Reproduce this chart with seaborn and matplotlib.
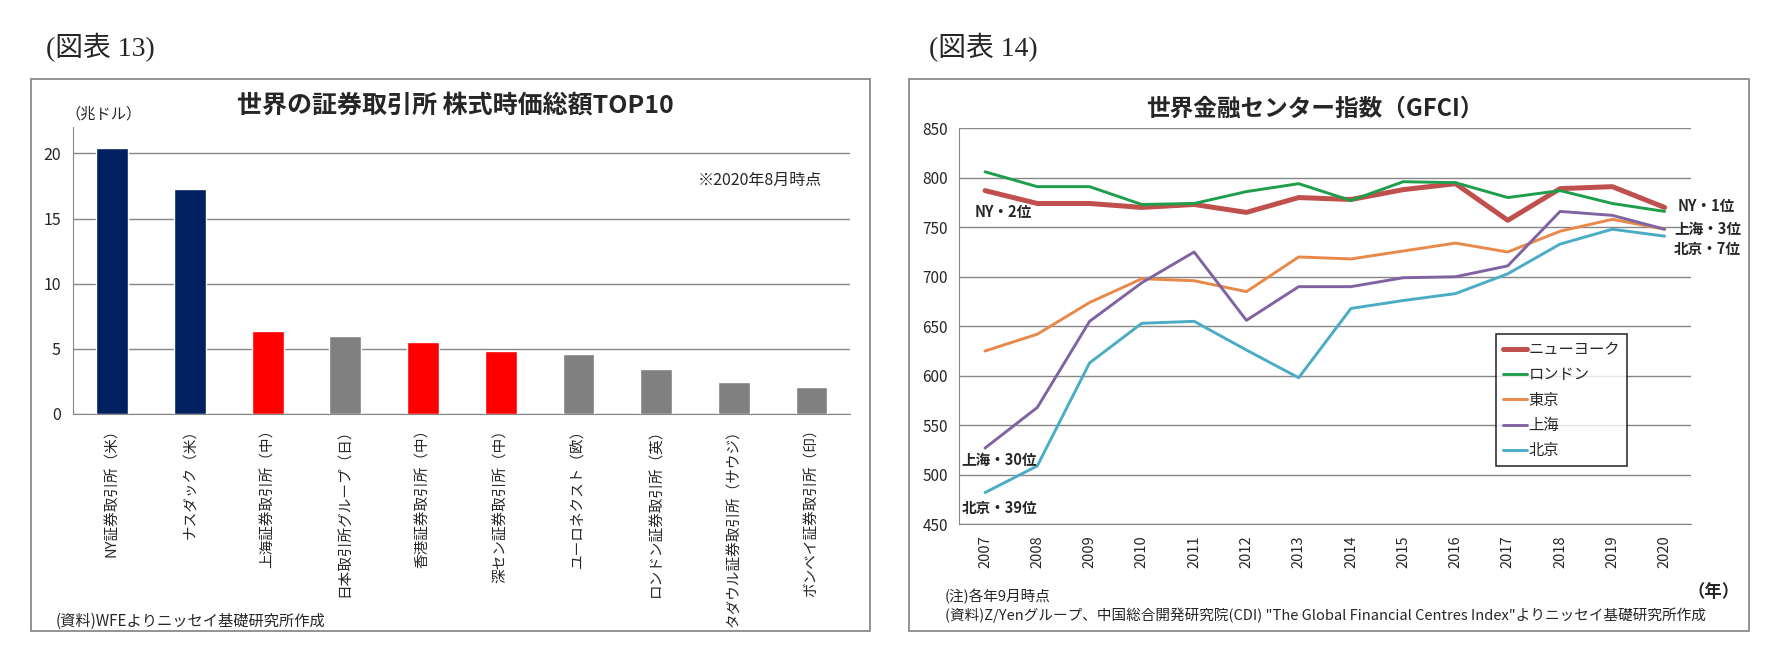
import matplotlib
matplotlib.use("Agg")
import matplotlib.pyplot as plt
from matplotlib.patches import Rectangle
import pandas as pd
import seaborn as sns

# --- data: chart 13 (market cap, trillion USD, Aug 2020)
exchanges = ["NY証券取引所（米）", "ナスダック（米）", "上海証券取引所（中）", "日本取引所グループ（日）",
             "香港証券取引所（中）", "深セン証券取引所（中）", "ユーロネクスト（欧）",
             "ロンドン証券取引所（英）", "タダウル証券取引所（サウジ）", "ボンベイ証券取引所（印）"]
market_cap = [20.4, 17.3, 6.35, 5.96, 5.5, 4.81, 4.6, 3.46, 2.39, 2.05]
bar_colors = ["#002060", "#002060", "#FF0000", "#808080", "#FF0000",
              "#FF0000", "#808080", "#808080", "#808080", "#808080"]

# --- data: chart 14 (GFCI)
years = [2007, 2008, 2009, 2010, 2011, 2012, 2013, 2014, 2015, 2016, 2017, 2018, 2019, 2020]
ny = [787, 774, 774, 770, 773, 765, 780, 778, 788, 794, 757, 789, 791, 770]
london = [806, 791, 791, 773, 774, 786, 794, 777, 796, 795, 780, 787, 774, 766]
tokyo = [625, 642, 674, 698, 696, 685, 720, 718, 726, 734, 725, 746, 758, 748]
shanghai = [527, 568, 655, 694, 725, 656, 690, 690, 699, 700, 711, 766, 762, 748]
beijing = [482, 509, 613, 653, 655, 626, 598, 668, 676, 683, 703, 733, 748, 741]
cities = ["ニューヨーク", "ロンドン", "東京", "上海", "北京"]
city_colors = ["#C0504D", "#1E9E4A", "#E8894A", "#8064A2", "#4BACC6"]
city_widths = [3.6, 2.1, 2.1, 2.1, 2.1]

sns.set_style("white")
plt.rcParams["font.family"] = ["Noto Sans CJK JP", "DejaVu Sans"]
plt.rcParams["axes.unicode_minus"] = False

fig = plt.figure(figsize=(17.79, 6.61), dpi=100)
grid_c = "#878787"

# panel frames
fig.add_artist(Rectangle((0.0173, 0.046), 0.4715, 0.834, transform=fig.transFigure,
                         fill=False, edgecolor="#8a8a8a", lw=1.3))
fig.add_artist(Rectangle((0.511, 0.046), 0.472, 0.834, transform=fig.transFigure,
                         fill=False, edgecolor="#8a8a8a", lw=1.3))

# headers
fig.text(0.0256, 0.928, "(図表 13)", fontsize=20, va="center",
         family=["Liberation Serif", "Noto Sans CJK JP"])
fig.text(0.522, 0.928, "(図表 14)", fontsize=20, va="center",
         family=["Liberation Serif", "Noto Sans CJK JP"])

# ---------- left: bar chart
ax1 = fig.add_axes([0.0413, 0.3744, 0.4367, 0.4339])
df_bar = pd.DataFrame({"exchange": exchanges, "cap": market_cap})
sns.barplot(data=df_bar, x="exchange", y="cap", hue="exchange",
            palette=dict(zip(exchanges, bar_colors)), saturation=1,
            width=0.41, legend=False, ax=ax1, zorder=3)
ax1.set_xlim(-0.5, 9.5)
ax1.set_ylim(0, 22.06)
ax1.set_yticks([0, 5, 10, 15, 20])
ax1.yaxis.grid(True, color=grid_c, lw=1)
ax1.set_axisbelow(True)
ax1.set_xlabel("")
ax1.set_ylabel("")
for s in ["top", "right"]:
    ax1.spines[s].set_visible(False)
for s in ["left", "bottom"]:
    ax1.spines[s].set_color(grid_c)
ax1.tick_params(axis="y", length=5, color=grid_c, labelsize=11.5, pad=4)
ax1.tick_params(axis="x", length=0, labelsize=10.5, pad=6)
for lab in ax1.get_xticklabels():
    lab.set_rotation(90)
    lab.set_va("top")
    lab.set_ha("center")

fig.text(0.256, 0.840, "世界の証券取引所 株式時価総額TOP10", fontsize=18,
         fontweight="bold", ha="center", va="center")
fig.text(0.037, 0.8275, "（兆ドル）", fontsize=11, va="center")
fig.text(0.392, 0.7277, "※2020年8月時点", fontsize=11.5, va="center")
fig.text(0.0315, 0.0595, "(資料)WFEよりニッセイ基礎研究所作成", fontsize=11, va="center")

# ---------- right: line chart
ax2 = fig.add_axes([0.539, 0.2068, 0.4114, 0.5992])
series = [ny, london, tokyo, shanghai, beijing]
for name, vals, col, lw in zip(cities, series, city_colors, city_widths):
    sns.lineplot(x=years, y=vals, color=col, lw=lw, label=name, ax=ax2)
ax2.set_xlim(2006.5, 2020.5)
ax2.set_ylim(450, 850)
ax2.set_xticks(years)
ax2.set_yticks(range(450, 851, 50))
ax2.yaxis.grid(True, color=grid_c, lw=1)
ax2.set_axisbelow(True)
for s in ["top", "right"]:
    ax2.spines[s].set_visible(False)
for s in ["left", "bottom"]:
    ax2.spines[s].set_color(grid_c)
ax2.tick_params(axis="y", length=5, color=grid_c, labelsize=11, pad=3)
ax2.tick_params(axis="x", length=0, labelsize=10.5, pad=8, labelrotation=90)

leg = ax2.legend(loc="upper left", bbox_to_anchor=(0.8408, 0.4947),
                 bbox_transform=fig.transFigure, frameon=True, fancybox=False,
                 fontsize=11, handlelength=1.6, handletextpad=0.1,
                 labelspacing=0.55, borderpad=0.45, borderaxespad=0)
leg.get_frame().set_edgecolor("black")
leg.get_frame().set_linewidth(1.2)

lab_kw = dict(fontsize=10.5, fontweight="bold", va="center")
ax2.text(2006.8, 765, "NY・2位", **lab_kw)
ax2.text(2006.55, 515, "上海・30位", **lab_kw)
ax2.text(2006.55, 466, "北京・39位", **lab_kw)
ax2.text(2020.25, 771, "NY・1位", **lab_kw)
ax2.text(2020.18, 748, "上海・3位", **lab_kw)
ax2.text(2020.17, 728, "北京・7位", **lab_kw)

fig.text(0.739, 0.836, "世界金融センター指数（GFCI）", fontsize=17,
         fontweight="bold", ha="center", va="center")
fig.text(0.978, 0.105, "（年）", fontsize=12.5, fontweight="bold", ha="right", va="center")
fig.text(0.531, 0.0973, "(注)各年9月時点", fontsize=10.5, va="center")
fig.text(0.531, 0.0696, "(資料)Z/Yenグループ、中国総合開発研究院(CDI) \"The Global Financial Centres Index\"よりニッセイ基礎研究所作成",
         fontsize=10.5, va="center")

fig.savefig("out.png", dpi=100)
